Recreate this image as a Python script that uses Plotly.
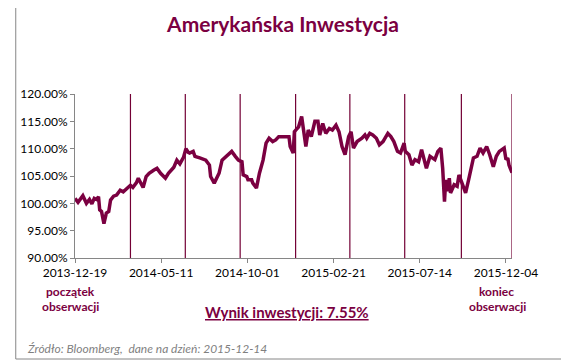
import plotly.graph_objects as go

# ---- data ----
dates = [
    "2013-12-19", "2013-12-24", "2014-01-01", "2014-01-07", "2014-01-12", "2014-01-16",
    "2014-01-20", "2014-01-24", "2014-01-27", "2014-01-29", "2014-02-01", "2014-02-05",
    "2014-02-09", "2014-02-13", "2014-02-16", "2014-02-21", "2014-02-26", "2014-03-04",
    "2014-03-09", "2014-03-15", "2014-03-21", "2014-03-25", "2014-03-31", "2014-04-03",
    "2014-04-11", "2014-04-16", "2014-04-21", "2014-04-29", "2014-05-04", "2014-05-10",
    "2014-05-18", "2014-05-23", "2014-06-01", "2014-06-06", "2014-06-11", "2014-06-17",
    "2014-06-21", "2014-06-25", "2014-06-27", "2014-07-03", "2014-07-06", "2014-07-14",
    "2014-07-24", "2014-07-30", "2014-08-01", "2014-08-07", "2014-08-15", "2014-08-20",
    "2014-08-28", "2014-09-05", "2014-09-11", "2014-09-16", "2014-09-22", "2014-09-24",
    "2014-09-30", "2014-10-02", "2014-10-08", "2014-10-10", "2014-10-16", "2014-10-21",
    "2014-10-27", "2014-11-01", "2014-11-06", "2014-11-12", "2014-11-17", "2014-11-22",
    "2014-12-03", "2014-12-09", "2014-12-11", "2014-12-16", "2014-12-18", "2014-12-25",
    "2014-12-30", "2015-01-02", "2015-01-06", "2015-01-10", "2015-01-15", "2015-01-21",
    "2015-01-26", "2015-01-29", "2015-02-03", "2015-02-08", "2015-02-14", "2015-02-19",
    "2015-02-25", "2015-03-02", "2015-03-07", "2015-03-12", "2015-03-18", "2015-03-22",
    "2015-03-26", "2015-04-01", "2015-04-09", "2015-04-14", "2015-04-17", "2015-04-22",
    "2015-04-27", "2015-05-03", "2015-05-08", "2015-05-14", "2015-05-22", "2015-05-27",
    "2015-06-01", "2015-06-07", "2015-06-12", "2015-06-18", "2015-06-20", "2015-06-26",
    "2015-07-01", "2015-07-06", "2015-07-12", "2015-07-17", "2015-07-20", "2015-07-25",
    "2015-07-31", "2015-08-08", "2015-08-13", "2015-08-18", "2015-08-21", "2015-08-24",
    "2015-08-26", "2015-08-29", "2015-09-01", "2015-09-03", "2015-09-09", "2015-09-14",
    "2015-09-17", "2015-09-22", "2015-09-28", "2015-10-03", "2015-10-06", "2015-10-11",
    "2015-10-17", "2015-10-22", "2015-10-27", "2015-11-02", "2015-11-07", "2015-11-13",
    "2015-11-18", "2015-11-23", "2015-12-01", "2015-12-04", "2015-12-07", "2015-12-09",
    "2015-12-14",
]
values = [
    100.9, 100.2, 101.4, 100.0, 100.7, 99.9,
    100.9, 100.7, 101.2, 98.8, 98.5, 96.3,
    98.2, 98.5, 100.6, 101.3, 101.5, 102.4,
    102.1, 102.7, 103.3, 102.9, 103.8, 104.6,
    102.9, 104.9, 105.5, 106.1, 106.4, 105.5,
    104.6, 105.5, 106.6, 107.9, 107.2, 108.4,
    110.0, 109.3, 109.2, 109.5, 108.6, 108.3,
    107.9, 107.0, 104.9, 103.7, 105.5, 107.9,
    108.6, 109.5, 108.6, 107.9, 107.6, 105.2,
    104.9, 104.3, 104.3, 103.7, 102.8, 105.5,
    107.9, 111.0, 111.9, 111.3, 111.6, 112.2,
    112.2, 112.2, 110.4, 109.2, 113.1, 114.0,
    115.9, 113.4, 110.4, 113.4, 112.2, 115.0,
    115.0, 112.5, 114.6, 112.8, 113.7, 113.4,
    114.3, 113.1, 110.4, 108.9, 112.2, 113.1,
    110.1, 111.3, 111.9, 112.5, 111.9, 112.8,
    112.5, 111.9, 110.7, 111.3, 112.8, 112.2,
    111.3, 109.5, 109.2, 111.0, 109.5, 108.9,
    107.0, 108.0, 107.6, 109.8, 108.6, 106.4,
    108.6, 108.0, 109.5, 110.1, 106.4, 100.3,
    104.3, 102.2, 104.6, 101.9, 103.4, 103.1,
    105.2, 103.7, 101.9, 104.3, 106.1, 108.3,
    108.6, 110.1, 109.2, 110.4, 108.9, 106.7,
    108.6, 109.5, 110.1, 108.0, 108.3, 107.0,
    105.6,
]
observation_dates = ["2014-03-21", "2014-06-20", "2014-09-19", "2014-12-20",
                     "2015-03-20", "2015-06-19", "2015-09-21", "2015-12-14"]
x_tick_dates = ["2013-12-19", "2014-05-11", "2014-10-01", "2015-02-21", "2015-07-14", "2015-12-04"]
y_ticks = [90, 95, 100, 105, 110, 115, 120]
y_tick_labels = ["90.00%", "95.00%", "100.00%", "105.00%", "110.00%", "115.00%", "120.00%"]

title_text = "Amerykańska Inwestycja"
result_text = "Wynik inwestycji: 7.55%"
source_text = "Źródło: Bloomberg,  dane na dzień: 2015-12-14"

MAROON = "#7B0041"
AXIS = "#868686"
FONT = "Lato"

# ---- figure ----
fig = go.Figure()

# vertical observation lines
vx, vy = [], []
for d in observation_dates:
    vx += [d, d, None]
    vy += [y_ticks[0], y_ticks[-1], None]
fig.add_trace(go.Scatter(x=vx, y=vy, mode="lines",
                         line=dict(color="#730035", width=1.2),
                         hoverinfo="skip", showlegend=False))

fig.add_trace(go.Scatter(x=dates, y=values, mode="lines",
                         line=dict(color=MAROON, width=3.5),
                         showlegend=False))

# page body has an 8px margin: work in page pixels, convert to figure pixels
OFF = 8
W, H = 569 - OFF, 361 - OFF
L, R, T, B = 62 - OFF, 512 - OFF, 94 - OFF, 258 - OFF
pw, ph = R - L, B - T


def px(x):
    return (x - OFF - L) / pw


def py(y):
    return (B - (y - OFF)) / ph


fig.update_layout(
    width=W, height=H,
    margin=dict(l=L, r=W - R, t=T, b=H - B, pad=0),
    paper_bgcolor="white", plot_bgcolor="white",
    font=dict(family=FONT, size=12, color="#000000"),
    title=dict(text="<b>" + title_text + "</b>", x=(283 - OFF) / W, xref="container",
               y=1 - (25 - OFF) / H, yref="container", xanchor="center", yanchor="middle",
               font=dict(family=FONT, size=21, color=MAROON)),
    xaxis=dict(type="date", range=[dates[0], observation_dates[-1]],
               tickvals=x_tick_dates, ticktext=x_tick_dates,
               showgrid=False, zeroline=False,
               showline=True, linecolor=AXIS, linewidth=1,
               ticks="outside", ticklen=4, tickcolor=AXIS,
               tickfont=dict(family=FONT, size=12, color="#000000")),
    yaxis=dict(range=[y_ticks[0], y_ticks[-1]], tickvals=y_ticks, ticktext=y_tick_labels,
               showgrid=False, zeroline=False,
               showline=True, linecolor=AXIS, linewidth=1,
               ticks="outside", ticklen=4, tickcolor=AXIS,
               tickfont=dict(family=FONT, size=12, color="#000000")),
    shapes=[dict(type="rect", xref="paper", yref="paper",
                 x0=px(1), x1=px(567), y0=py(359), y1=py(1),
                 line=dict(color=AXIS, width=1), fillcolor="rgba(0,0,0,0)")],
)

ann = []


def add(text, x, y, size, color, xanchor="center", bold=True, italic=False, underline=False):
    t = text
    if underline:
        t = "<u>" + t + "</u>"
    if bold:
        t = "<b>" + t + "</b>"
    if italic:
        t = "<i>" + t + "</i>"
    ann.append(dict(text=t, x=px(x), y=py(y), xref="paper", yref="paper",
                    xanchor=xanchor, yanchor="middle", showarrow=False,
                    font=dict(family=FONT, size=size, color=color)))


add("początek", 57.5, 291.7, 12, MAROON)
add("obserwacji", 57.5, 306.7, 12, MAROON)
add("koniec", 496.5, 291.7, 12, MAROON)
add("obserwacji", 497, 306.7, 12, MAROON)
add(result_text, 280, 311.7, 15, MAROON, underline=True)
add(source_text, 10, 348.3, 12, "#7F7F7F", xanchor="left", bold=False, italic=True)
fig.update_layout(annotations=ann)

fig.write_html("out.html")
